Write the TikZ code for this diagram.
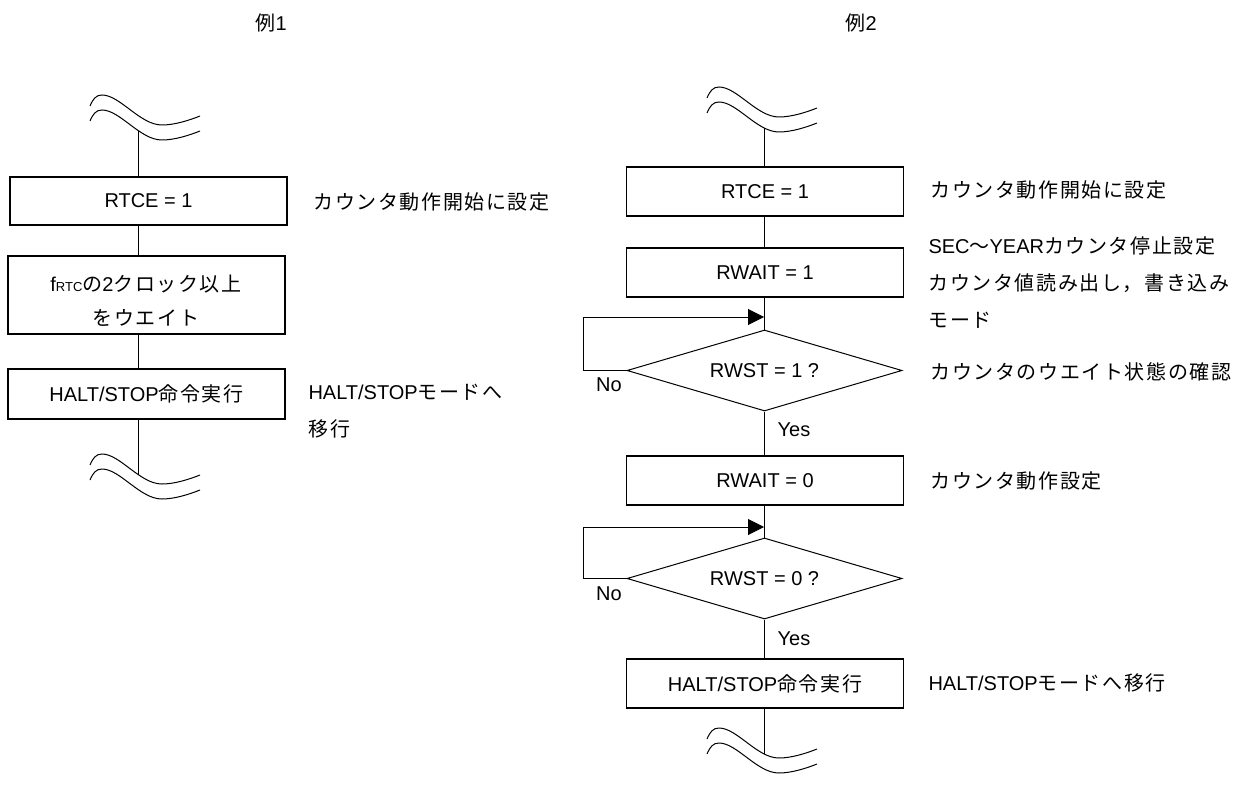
\documentclass[tikz,border=0pt]{standalone}
\usepackage{fontspec}
\setmainfont{Liberation Sans}
\newfontfamily\jp[LetterSpace=8]{Noto Sans CJK JP}
\usetikzlibrary{shapes.geometric,arrows.meta}
\newcommand\breakmark[2]{%
  \begin{scope}[shift={(#1,#2)}]
    \foreach \dy in {0,15}{
      \draw (0,\dy) .. controls (3,\dy-7) and (6,\dy-11) .. (12,\dy-11)
        .. controls (30,\dy-11) and (50,\dy+19) .. (72,\dy+19)
        .. controls (85,\dy+19) and (100,\dy+14) .. (110,\dy+10);
    }
  \end{scope}}
\begin{document}
\begin{tikzpicture}[x=1pt,y=-1pt,line width=1pt,
  box/.style={draw,line width=1.1pt,minimum width=277pt,inner sep=0pt,font=\fontsize{20}{24}\selectfont},
  dia/.style={draw,diamond,aspect=3.4,line width=1pt,minimum width=275pt,minimum height=81pt,inner sep=0pt,font=\fontsize{20}{24}\selectfont},
  txt/.style={font=\fontsize{20}{37}\selectfont,inner sep=0pt,align=left,anchor=west},
  lbl/.style={font=\fontsize{20}{24}\selectfont,inner sep=0pt},
  arr/.style={-{Triangle[length=16pt,width=16pt]}}]
\useasboundingbox (0,0) rectangle (1241,786);

% titles
\node[lbl,anchor=west] (t1) at (255,23) {{\jp 例}1};
\node[lbl,anchor=west] (t2) at (845,23) {{\jp 例}2};

% ---------- example 1 ----------
\breakmark{90}{106}
\breakmark{90}{465}
\coordinate (wL1) at (138,131);
\coordinate (wL2) at (138,475);
\node[box,minimum height=48pt] (l1) at (148.5,201) {RTCE = 1};
\node[box,minimum height=78pt] (l2) at (146.5,295) {};
\node[font=\fontsize{20}{34}\selectfont,align=center,inner sep=0pt] (l2t) at (146,301)
  {f{\fontsize{13}{13}\selectfont RTC}{\jp の}2{\jp クロック以上}\\{\jp をウエイト}};
\node[box,minimum height=50pt] (l3) at (146.5,394) {HALT/STOP{\jp 命令実行}};
\draw (wL1) -- (wL1 |- l1.north);
\draw (l1.south -| wL1) -- (l2.north -| wL1);
\draw (l2.south -| wL1) -- (l3.north -| wL1);
\draw (l3.south -| wL1) -- (wL2);

\node[txt] (s1) at (313,202) {\jp カウンタ動作開始に設定};
\node[txt] (s2) at (308,411.5) {HALT/STOP{\jp モードへ}\\{\jp 移行}};

% ---------- example 2 ----------
\breakmark{707}{98}
\breakmark{707}{739}
\coordinate (wR1) at (764,128);
\coordinate (wR2) at (764,754);
\node[box,minimum height=49pt] (r1) at (765,191.5) {RTCE = 1};
\node[box,minimum height=49pt] (r2) at (765,272.5) {RWAIT = 1};
\node[dia] (d1) at (764.5,370.5) {RWST = 1 ?};
\node[box,minimum height=49pt] (r3) at (765,480.5) {RWAIT = 0};
\node[dia] (d2) at (764.5,578.5) {RWST = 0 ?};
\node[box,minimum height=49pt] (r4) at (765,683.5) {HALT/STOP{\jp 命令実行}};
\coordinate (j1) at (764,317);
\coordinate (j2) at (764,527);

\draw (wR1) -- (wR1 |- r1.north);
\draw (r1.south -| wR1) -- (r2.north -| wR1);
\draw (r2.south -| wR1) -- (d1.north -| wR1);
\draw (d1.south -| wR1) -- (r3.north -| wR1);
\draw (r3.south -| wR1) -- (d2.north -| wR1);
\draw (d2.south -| wR1) -- (r4.north -| wR1);
\draw (r4.south -| wR1) -- (wR2);
\draw[arr] (d1.west) -- ++(-43,0) |- (j1);
\draw[arr] (d2.west) -- ++(-43,0) |- (j2);

\node[lbl] (no1) at (609,385) {No};
\node[lbl] (yes1) at (794,430) {Yes};
\node[lbl] (no2) at (609,594) {No};
\node[lbl] (yes2) at (794,639) {Yes};

\node[txt] (s3) at (930,190) {\jp カウンタ動作開始に設定};
\node[txt] (s4) at (928,283) {SEC{\jp ～}YEAR{\jp カウンタ停止設定}\\{\jp カウンタ値読み出し，書き込み}\\{\jp モード}};
\node[txt] (s5) at (930,372) {\jp カウンタのウエイト状態の確認};
\node[txt] (s6) at (930,481) {\jp カウンタ動作設定};
\node[txt] (s7) at (928,683) {HALT/STOP{\jp モードへ移行}};
\end{tikzpicture}
\end{document}
